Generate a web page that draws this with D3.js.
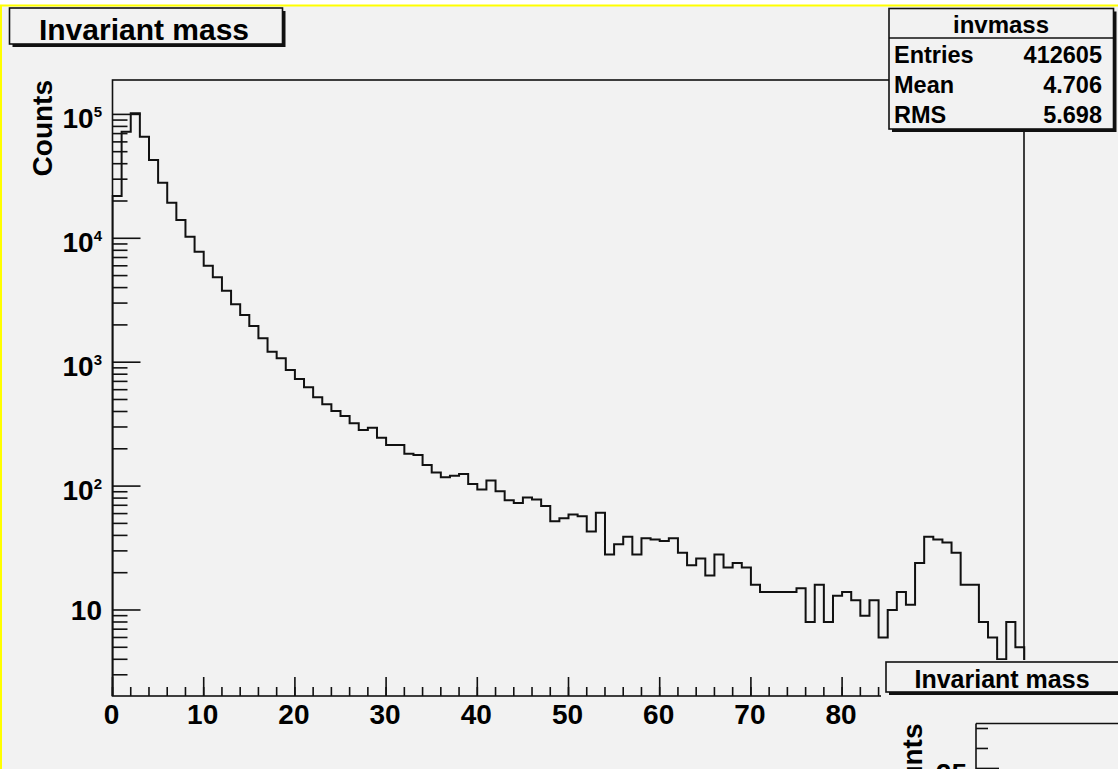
<!DOCTYPE html>
<html>
<head>
<meta charset="utf-8">
<script src="https://cdn.jsdelivr.net/npm/d3@7"></script>
<style>
  html, body { margin: 0; padding: 0; background: #ffffff; }
  svg { display: block; }
  text { font-family: "Liberation Sans", Arial, Helvetica, sans-serif; font-weight: bold; fill: #000; }
</style>
</head>
<body>
<script>
// Histogram "invmass": 100 bins of width 1 between 0 and 100
const xMin = 0, xMax = 100;
const binCounts = [
  21950, 72500, 102000, 66100, 42850, 28100, 19380, 14050, 10300, 7800,
  6010, 4845, 3776, 2933, 2403, 1960, 1559, 1216, 1075, 865,
  731, 627, 521, 457, 404, 368, 321, 284, 296, 246,
  215, 215, 182, 178, 148, 129, 118, 121, 125, 104,
  94, 111, 91, 77, 73, 81, 78, 69, 52, 55,
  59, 57, 43, 61, 28, 34, 39, 28, 38, 37,
  36, 38, 29, 23, 26, 19, 28, 22, 24, 22,
  16, 14, 14, 14, 14, 15, 8, 16, 8, 13,
  14, 12, 9, 12, 6, 10, 14, 11, 24, 39,
  37, 35, 29, 16, 16, 8, 6, 4, 8, 5
];
const yMin = 2.022, yMax = 1.895e5;

const xMajorTicks = [0, 10, 20, 30, 40, 50, 60, 70, 80, 90, 100];
const yDecadeExponents = [1, 2, 3, 4, 5];

const histTitle = "Invariant mass";
const histName = "invmass";
const yTitle = "Counts";
const statLabels = ["Entries", "Mean", "RMS"];
const statValues = ["412605", "4.706", "5.698"];

// second pad (partially visible in the lower right corner)
const subTitle = "Invariant mass";
const subYTitle = "Counts";
const subYTicks = [25, 26, 27];
const subYLabels = ["25"];

const W = 1118, H = 769;
const BG = "#f2f2f2";

const svg = d3.select("body").append("svg").attr("width", W).attr("height", H);

// canvas background with the yellow highlight border of the active canvas
svg.append("rect").attr("x", 0).attr("y", 0).attr("width", W).attr("height", H).attr("fill", "#ffffff");
svg.append("rect").attr("x", 2).attr("y", 6).attr("width", W - 2).attr("height", H - 6).attr("fill", BG);
svg.append("line").attr("x1", 0).attr("x2", W).attr("y1", 5.5).attr("y2", 5.5).attr("stroke", "#ffff00").attr("stroke-width", 2);
svg.append("line").attr("x1", 1).attr("x2", 1).attr("y1", 5).attr("y2", H).attr("stroke", "#ffff00").attr("stroke-width", 2);

// ---- main frame ----
const fL = 112.5, fR = 1024.5, fT = 80, fB = 696;
const x = d3.scaleLinear().domain([xMin, xMax]).range([fL, fR]);
const y = d3.scaleLog().domain([yMin, yMax]).range([fB, fT]);

svg.append("defs").append("clipPath").attr("id", "frameClip")
  .append("rect").attr("x", fL - 1).attr("y", fT).attr("width", fR - fL + 2).attr("height", fB - fT);

const main = svg.append("g");

// histogram outline drawn as steps
const binW = (xMax - xMin) / binCounts.length;
const pts = [[xMin, yMin]];
binCounts.forEach((c, i) => pts.push([xMin + i * binW, c]));
pts.push([xMax, binCounts[binCounts.length - 1]]);
pts.push([xMax, yMin]);
const stepLine = d3.line()
  .x(d => x(d[0]))
  .y(d => y(Math.max(d[1], yMin)))
  .curve(d3.curveStepAfter);
main.append("path")
  .attr("clip-path", "url(#frameClip)")
  .attr("d", stepLine(pts))
  .attr("fill", "none").attr("stroke", "#111").attr("stroke-width", 2);

// frame box
main.append("rect").attr("x", fL).attr("y", fT).attr("width", fR - fL - 0.5).attr("height", fB - fT)
  .attr("fill", "none").attr("stroke", "#111").attr("stroke-width", 1.6);

// x axis ticks
const xMinor = d3.range(xMin, xMax + 0.001, 2);
main.selectAll(".xminor").data(xMinor).join("line")
  .attr("x1", d => x(d)).attr("x2", d => x(d)).attr("y1", fB).attr("y2", fB - 9)
  .attr("stroke", "#111").attr("stroke-width", 1.6);
main.selectAll(".xmajor").data(xMajorTicks).join("line")
  .attr("x1", d => x(d)).attr("x2", d => x(d)).attr("y1", fB).attr("y2", fB - 19)
  .attr("stroke", "#111").attr("stroke-width", 1.6);
main.selectAll(".xlab").data(xMajorTicks).join("text")
  .attr("x", d => x(d) - 1).attr("y", fB + 28)
  .attr("text-anchor", "middle").attr("font-size", 28)
  .text(d => d3.format("d")(d));

// y axis ticks (log)
const yMinor = [];
for (let e = 0; e <= 5; e++) {
  for (let m = 2; m <= 9; m++) {
    const v = m * Math.pow(10, e);
    if (v >= yMin && v <= yMax) yMinor.push(v);
  }
}
main.selectAll(".yminor").data(yMinor).join("line")
  .attr("x1", fL).attr("x2", fL + 15).attr("y1", d => y(d)).attr("y2", d => y(d))
  .attr("stroke", "#111").attr("stroke-width", 1.6);
main.selectAll(".ymajor").data(yDecadeExponents).join("line")
  .attr("x1", fL).attr("x2", fL + 28)
  .attr("y1", d => y(Math.pow(10, d))).attr("y2", d => y(Math.pow(10, d)))
  .attr("stroke", "#111").attr("stroke-width", 1.6);
yDecadeExponents.forEach(e => {
  const yy = y(Math.pow(10, e));
  const t = main.append("text").attr("text-anchor", "end").attr("x", 102).attr("font-size", 28);
  if (e === 1) {
    t.attr("y", yy + 10).text("10");
  } else {
    t.attr("y", yy + 14);
    t.append("tspan").text("10");
    t.append("tspan").attr("font-size", 15).attr("dy", -11.5).text(String(e));
  }
});

// y axis title
main.append("text")
  .attr("transform", `translate(52, ${fT}) rotate(-90)`)
  .attr("text-anchor", "end").attr("font-size", 28)
  .text(yTitle);

// ---- title box ----
function shadowBox(g, x0, y0, x1, y1) {
  g.append("rect").attr("x", x0 + 3).attr("y", y0 + 3).attr("width", x1 - x0).attr("height", y1 - y0).attr("fill", "#111");
  g.append("rect").attr("x", x0).attr("y", y0).attr("width", x1 - x0).attr("height", y1 - y0)
    .attr("fill", BG).attr("stroke", "#111").attr("stroke-width", 1.6);
}
const titleG = svg.append("g");
shadowBox(titleG, 9.5, 8, 282.5, 44);
titleG.append("text").attr("x", 144).attr("y", 40).attr("text-anchor", "middle")
  .attr("font-size", 30).text(histTitle);

// ---- statistics box ----
const statG = svg.append("g");
shadowBox(statG, 889, 8.5, 1113.5, 129);
statG.append("line").attr("x1", 889).attr("x2", 1113.5).attr("y1", 38).attr("y2", 38)
  .attr("stroke", "#111").attr("stroke-width", 1.6);
statG.append("text").attr("x", 1001).attr("y", 33).attr("text-anchor", "middle")
  .attr("font-size", 24).text(histName);
statLabels.forEach((lab, i) => {
  const by = 62.5 + i * 30;
  statG.append("text").attr("x", 894).attr("y", by).attr("font-size", 23.5).text(lab);
  statG.append("text").attr("x", 1102).attr("y", by).attr("text-anchor", "end")
    .attr("font-size", 23.5).text(statValues[i]);
});

// ---- second pad in the lower right ----
const padL = 881, padT = 660;
const sub = svg.append("g");
sub.append("rect").attr("x", padL).attr("y", padT).attr("width", W - padL).attr("height", H - padT).attr("fill", BG);
shadowBox(sub, 886, 662, 1140, 692);
sub.append("text").attr("x", 1002).attr("y", 688).attr("text-anchor", "middle")
  .attr("font-size", 25).text(subTitle);

const sfL = 976, sfT = 723.5;
const sy = d3.scaleLinear().domain([20, 27.25]).range([868.3, sfT]);
sub.append("line").attr("x1", sfL).attr("x2", W + 5).attr("y1", sfT).attr("y2", sfT)
  .attr("stroke", "#111").attr("stroke-width", 1.6);
sub.append("line").attr("x1", sfL).attr("x2", sfL).attr("y1", sfT).attr("y2", H + 5)
  .attr("stroke", "#111").attr("stroke-width", 1.6);
sub.selectAll(".sytick").data(subYTicks).join("line")
  .attr("x1", sfL).attr("x2", d => sfL + (d % 5 === 0 ? 23 : 12))
  .attr("y1", d => sy(d)).attr("y2", d => sy(d))
  .attr("stroke", "#111").attr("stroke-width", 1.6);
sub.selectAll(".sylab").data(subYLabels).join("text")
  .attr("x", 967).attr("y", d => sy(+d) + 15)
  .attr("text-anchor", "end").attr("font-size", 28).text(d => d);
sub.append("text")
  .attr("transform", `translate(921.5, ${sfT}) rotate(-90)`)
  .attr("text-anchor", "end").attr("font-size", 28)
  .text(subYTitle);
</script>
</body>
</html>
